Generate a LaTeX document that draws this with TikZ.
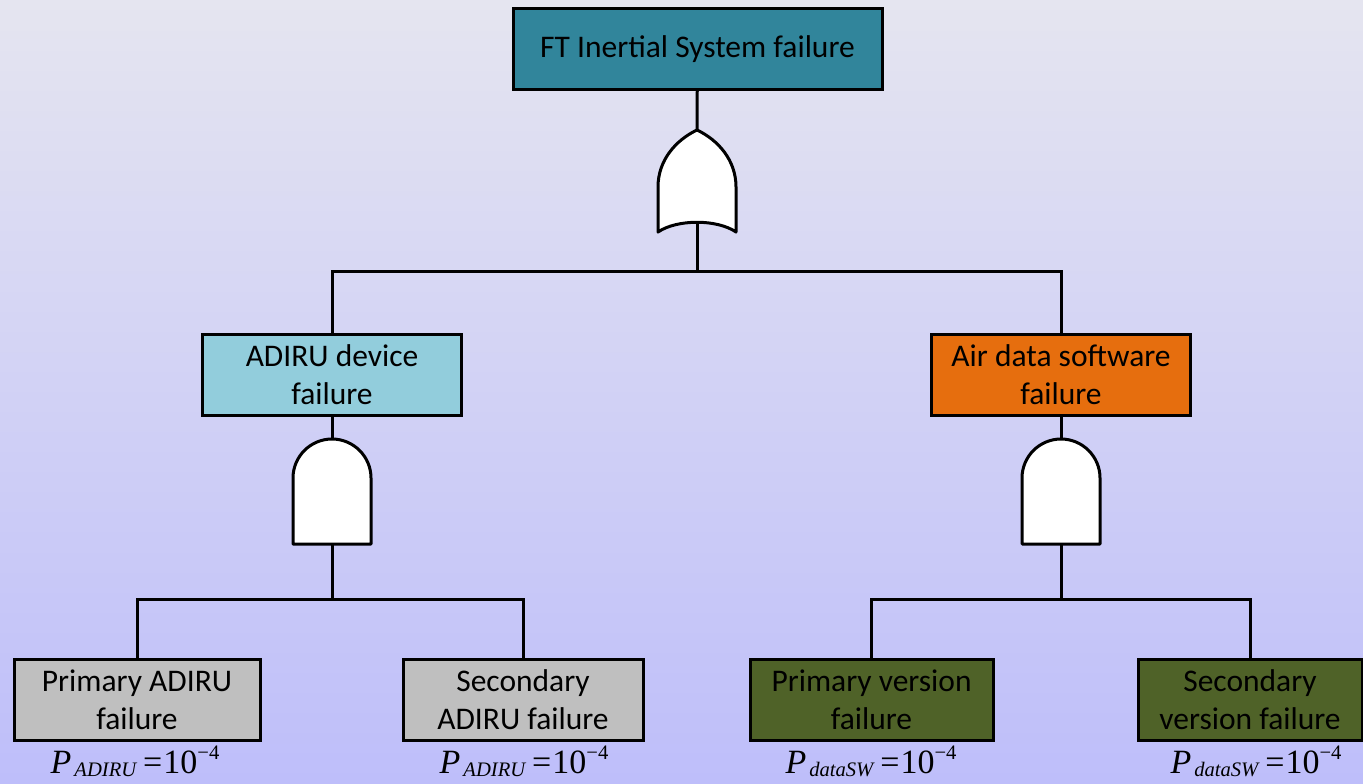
\documentclass[tikz,border=0pt]{standalone}
\usepackage{fontspec}
\setmainfont{Carlito}
\newfontfamily\probfont{Liberation Serif}
\usepackage{tikz}

\definecolor{bgtop}{RGB}{229,229,240}
\definecolor{bgbot}{RGB}{190,190,250}
\definecolor{topteal}{RGB}{49,133,155}
\definecolor{adirublue}{RGB}{146,205,220}
\definecolor{swfail}{RGB}{230,110,14}
\definecolor{basicgray}{RGB}{191,191,191}
\definecolor{swgreen}{RGB}{79,98,40}

\newcommand{\boxfont}{\fontsize{15.75}{19}\selectfont}
\newcommand{\probtxt}[1]{{\probfont\fontsize{17}{18}\selectfont
  \textit{P}\hspace{1.5pt}\raisebox{-1.5pt}{\fontsize{10.3}{12}\selectfont\itshape #1}\hspace{3.5pt}=\hspace{0.5pt}10\raisebox{7pt}{\fontsize{10.3}{12}\selectfont −4}}}

\tikzset{
  evbox/.style={draw=black, line width=1.5pt, align=center, font=\boxfont,
    minimum height=40.5pt, inner sep=2pt},
  conn/.style={line width=1.5pt},
  gateline/.style={draw=black, fill=white, line width=1.5pt, line join=round},
  problabel/.style={anchor=base, inner sep=0pt},
  andgate/.pic={
    \draw[gateline] (-39,105) -- (-39,39) .. controls (-39,17.5) and (-21.5,0) .. (0,0)
      .. controls (21.5,0) and (39,17.5) .. (39,39) -- (39,105) -- cycle;
    \coordinate (-out) at (0,0);
    \coordinate (-in) at (0,105);
  },
  orgate/.pic={
    \draw[gateline] (-39,102) -- (-39,57) .. controls (-39,30) and (-21,10) .. (0,0)
      .. controls (21,10) and (39,30) .. (39,57) -- (39,102)
      .. controls (20,89) and (-20,89) .. (-39,102) -- cycle;
    \coordinate (-out) at (0,0);
    \coordinate (-in) at (0,93);
  }
}

\begin{document}
\begin{tikzpicture}[x=0.5pt, y=-0.5pt]
  % background
  \shade[top color=bgtop, bottom color=bgbot] (0,0) rectangle (1363,783);
  \useasboundingbox (0,0) rectangle (1363,783);

  % top event and OR gate
  \node[evbox, fill=topteal, minimum width=184.5pt] (top) at (697.5,49) {FT Inertial System failure};
  \pic (orG) at (697,130) {orgate};

  % intermediate events
  \node[evbox, fill=adirublue, minimum width=129.5pt] (adiru) at (332,374.5) {ADIRU device\\failure};
  \node[evbox, fill=swfail, minimum width=129.5pt] (airsw) at (1061,375) {Air data software\\failure};
  \pic (andL) at (332,439) {andgate};
  \pic (andR) at (1061,439) {andgate};

  % basic events
  \node[evbox, fill=basicgray, minimum width=123pt] (pa) at (137,699.5) {Primary ADIRU\\failure};
  \node[evbox, fill=basicgray, minimum width=120pt] (sa) at (523,699.5) {Secondary\\ADIRU failure};
  \node[evbox, fill=swgreen, minimum width=121.5pt] (pv) at (871.5,699.5) {Primary version\\failure};
  \node[evbox, fill=swgreen, minimum width=112pt] (sv) at (1250,699.5) {Secondary\\version failure};

  % probabilities
  \node[problabel] (ppa) at (135,773) {\probtxt{ADIRU}};
  \node[problabel] (psa) at (524,773) {\probtxt{ADIRU}};
  \node[problabel] (ppv) at (871,773) {\probtxt{dataSW}};
  \node[problabel] (psv) at (1256,773) {\probtxt{dataSW}};

  % connectors
  \draw[conn] (top) -- (orG-out);
  \draw[conn] (orG-in) -- ++(0,48) coordinate (busT) -| (adiru.north);
  \draw[conn] (busT) -| (airsw.north);
  \draw[conn] (adiru) -- (andL-out);
  \draw[conn] (airsw) -- (andR-out);
  \draw[conn] (andL-in) -- ++(0,55) coordinate (busL) -| (pa.north);
  \draw[conn] (busL) -| (sa.north);
  \draw[conn] (andR-in) -- ++(0,55) coordinate (busR) -| (pv.north);
  \draw[conn] (busR) -| (sv.north);
\end{tikzpicture}
\end{document}
